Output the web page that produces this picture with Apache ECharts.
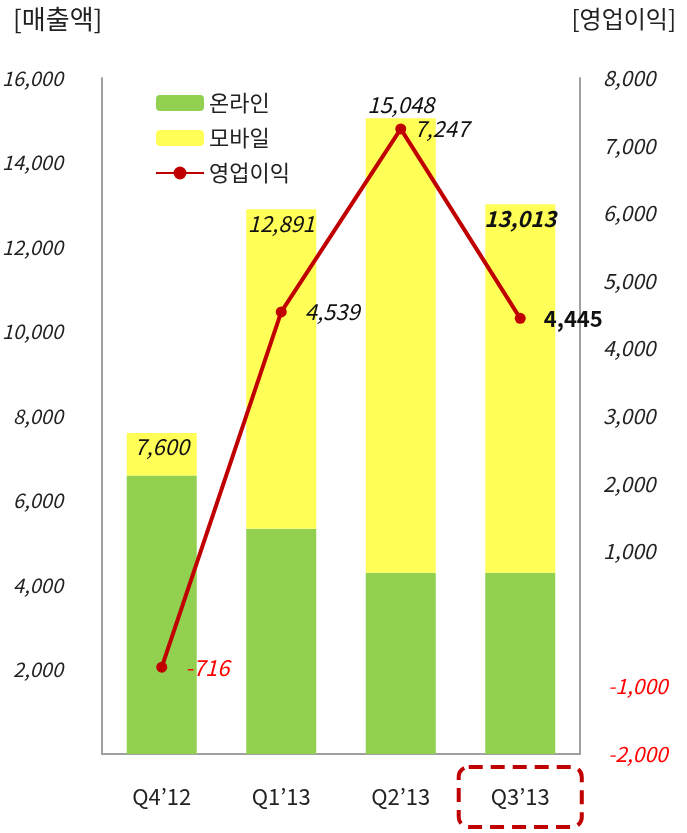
<!DOCTYPE html>
<html>
<head>
<meta charset="utf-8">
<script src="https://cdn.jsdelivr.net/npm/echarts@6/dist/echarts.min.js"></script>
<style>
  html, body { margin: 0; padding: 0; background: #fff; }
  #chart { width: 687px; height: 833px; }
</style>
</head>
<body>
<div id="chart"></div>
<script>
var quarters = ['Q4\u201912', 'Q1\u201913', 'Q2\u201913', 'Q3\u201913'];
var online = [6590, 5330, 4290, 4290];
var mobile = [1010, 7561, 10758, 8723];
var totals = [7600, 12891, 15048, 13013];
var profit = [-716, 4539, 7247, 4445];

var FONT = '"Noto Sans CJK KR", "Noto Sans", sans-serif';

var fmt = function (v) {
    var s = String(Math.abs(v)).replace(/\B(?=(\d{3})+(?!\d))/g, ',');
    return (v < 0 ? '-' : '') + s;
};

var chart = echarts.init(document.getElementById('chart'));

// bar top labels: the tallest sits above its bar, the last one is bold
var mobileData = mobile.map(function (v, i) {
    var item = { value: v, label: {} };
    if (i === 2) item.label.position = 'top';
    if (i === 3) item.label.fontWeight = 'bold';
    return item;
});

var profitData = profit.map(function (v, i) {
    var item = { value: v, label: {} };
    if (v < 0) item.label.color = '#ff0000';
    if (i === 2) item.label.distance = 8;
    if (i === 3) {
        item.label.fontStyle = 'normal';
        item.label.fontWeight = 'bold';
    }
    return item;
});

var boxPad = [19, 32, 19, 32];

chart.setOption({
    animation: false,
    textStyle: { fontFamily: FONT },
    title: [
        { text: '[매출액]', left: 8, top: 1,
          textStyle: { fontSize: 26, fontWeight: 'normal', color: '#222', fontFamily: FONT } },
        { text: '[영업이익]', right: 6, top: 2,
          textStyle: { fontSize: 24, fontWeight: 'normal', color: '#222', fontFamily: FONT } }
    ],
    legend: {
        orient: 'vertical',
        left: 150,
        top: 87,
        itemWidth: 48,
        itemHeight: 16,
        itemGap: 13,
        textStyle: { fontSize: 22, color: '#222', fontFamily: FONT },
        data: ['온라인', '모바일', '영업이익']
    },
    grid: { left: 102, right: 107, top: 78, bottom: 79, outerBoundsMode: 'none' },
    xAxis: {
        type: 'category',
        data: quarters,
        axisLine: { lineStyle: { color: '#a0a0a0', width: 2 } },
        axisTick: { show: false },
        axisLabel: {
            interval: 0,
            margin: 13,
            fontSize: 22,
            color: '#222',
            fontFamily: FONT,
            formatter: function (v, i) {
                return i === 3 ? '{hl|' + v + '}' : '{n|' + v + '}';
            },
            rich: {
                n: {
                    fontSize: 22,
                    color: '#222',
                    fontFamily: FONT,
                    borderColor: 'transparent',
                    borderWidth: 4,
                    padding: boxPad
                },
                hl: {
                    fontSize: 22,
                    color: '#222',
                    fontFamily: FONT,
                    borderColor: '#c00000',
                    borderWidth: 4,
                    borderType: [14, 8],
                    borderRadius: 10,
                    padding: boxPad
                }
            }
        }
    },
    yAxis: [
        {
            type: 'value',
            min: 0, max: 16000, interval: 2000,
            splitLine: { show: false },
            axisTick: { show: false },
            axisLine: { show: true, lineStyle: { color: '#a0a0a0', width: 2 } },
            axisLabel: {
                margin: 39,
                fontSize: 20,
                fontStyle: 'italic',
                color: '#222',
                fontFamily: FONT,
                formatter: function (v) { return v === 0 ? '' : fmt(v); }
            }
        },
        {
            type: 'value',
            min: -2000, max: 8000, interval: 1000,
            splitLine: { show: false },
            axisTick: { show: false },
            axisLine: { show: true, onZero: false, lineStyle: { color: '#a0a0a0', width: 2 } },
            axisLabel: {
                margin: 23,
                fontSize: 21,
                fontStyle: 'italic',
                color: '#222',
                fontFamily: FONT,
                formatter: function (v) {
                    if (v === 0) return '';
                    return v < 0 ? '{neg|' + fmt(v) + '}' : fmt(v);
                },
                rich: {
                    neg: { color: '#ff0000', fontSize: 21, fontStyle: 'italic', fontFamily: FONT, padding: [0, 0, 0, 5] }
                }
            }
        }
    ],
    series: [
        {
            name: '온라인',
            type: 'bar',
            stack: 'sales',
            barWidth: 70,
            itemStyle: { color: '#92d050' },
            data: online
        },
        {
            name: '모바일',
            type: 'bar',
            stack: 'sales',
            barWidth: 70,
            itemStyle: { color: '#ffff57' },
            label: {
                show: true,
                position: 'insideTop',
                distance: 3,
                fontSize: 22,
                fontStyle: 'italic',
                color: '#111',
                fontFamily: FONT,
                formatter: function (p) { return fmt(totals[p.dataIndex]); }
            },
            data: mobileData
        },
        {
            name: '영업이익',
            type: 'line',
            yAxisIndex: 1,
            symbol: 'circle',
            symbolSize: 11,
            lineStyle: { color: '#c00000', width: 4 },
            itemStyle: { color: '#c00000' },
            label: {
                show: true,
                position: 'right',
                distance: 18,
                fontSize: 22,
                fontStyle: 'italic',
                color: '#111',
                fontFamily: FONT,
                formatter: function (p) { return fmt(p.value); }
            },
            data: profitData
        }
    ]
});
</script>
</body>
</html>
